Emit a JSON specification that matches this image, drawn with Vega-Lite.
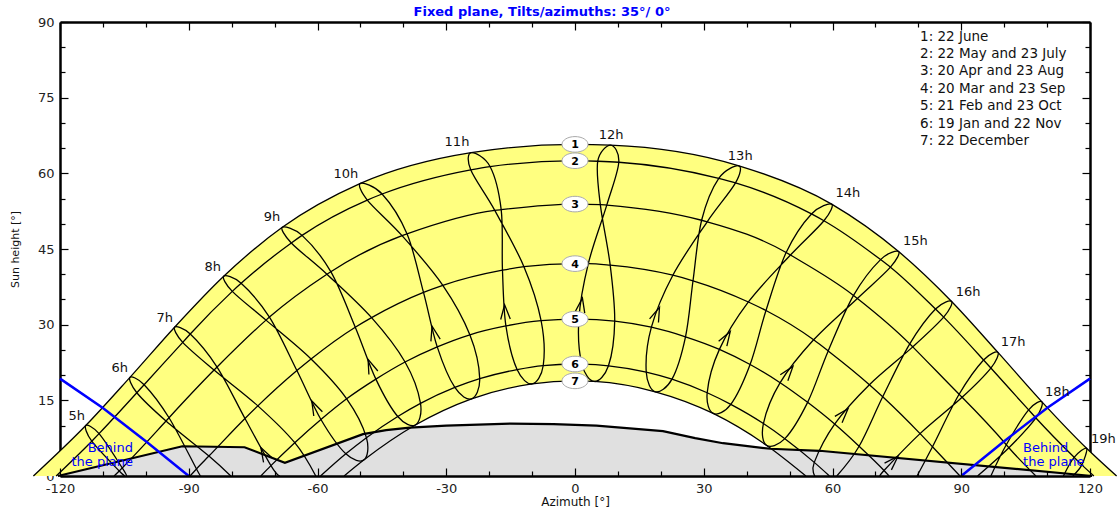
{
"$schema": "https://vega.github.io/schema/vega-lite/v6.json",
"width": 1030, "height": 454,
"autosize": {"type": "none"},
"padding": {"left": 60, "top": 22, "right": 28, "bottom": 39},
"background": "white",
"config": {"font": "DejaVu Sans", "view": {"stroke": null}},
"title": {"text": "Fixed plane, Tilts/azimuths: 35°/ 0°", "color": "#0000ff", "fontSize": 13, "fontWeight": "bold", "anchor": "middle", "dx": -33, "offset": -3},
"datasets": {
"sun": [
{"c":1,"hr":5,"s":6,"az":-114.0,"h":10.0},{"c":1,"hr":6,"s":6,"az":-103.7,"h":19.55},{"c":1,"hr":7,"s":6,"az":-93.3,"h":29.5},{"c":1,"hr":8,"s":6,"az":-81.85,"h":39.6},{"c":1,"hr":9,"s":6,"az":-68.2,"h":49.3},{"c":1,"hr":10,"s":6,"az":-50.0,"h":58.0},{"c":1,"hr":11,"s":6,"az":-24.2,"h":64.1},{"c":1,"hr":12,"s":6,"az":8.3,"h":65.6},{"c":1,"hr":13,"s":6,"az":38.2,"h":61.5},{"c":1,"hr":14,"s":6,"az":59.8,"h":53.9},{"c":1,"hr":15,"s":6,"az":75.4,"h":44.5},{"c":1,"hr":16,"s":6,"az":87.75,"h":34.6},{"c":1,"hr":17,"s":6,"az":98.55,"h":24.5},{"c":1,"hr":18,"s":6,"az":108.8,"h":14.7},{"c":1,"hr":19,"s":6,"az":119.2,"h":5.5},
{"c":2,"hr":5,"s":5,"az":-110.9,"h":8.4},{"c":2,"hr":6,"s":5,"az":-100.4,"h":18.1},{"c":2,"hr":7,"s":5,"az":-89.65,"h":28.15},{"c":2,"hr":8,"s":5,"az":-77.8,"h":38.2},{"c":2,"hr":9,"s":5,"az":-63.6,"h":47.7},{"c":2,"hr":10,"s":5,"az":-44.95,"h":55.9},{"c":2,"hr":11,"s":5,"az":-19.8,"h":61.35},{"c":2,"hr":12,"s":5,"az":10.2,"h":62.2},{"c":2,"hr":13,"s":5,"az":37.4,"h":58.1},{"c":2,"hr":14,"s":5,"az":58.0,"h":50.6},{"c":2,"hr":15,"s":5,"az":73.5,"h":41.4},{"c":2,"hr":16,"s":5,"az":85.9,"h":31.5},{"c":2,"hr":17,"s":5,"az":96.9,"h":21.4},{"c":2,"hr":18,"s":5,"az":107.4,"h":11.5},{"c":2,"hr":19,"s":5,"az":118.1,"h":2.2},
{"c":2,"hr":5,"s":7,"az":-112.6,"h":6.9},{"c":2,"hr":6,"s":7,"az":-102.1,"h":16.5},{"c":2,"hr":7,"s":7,"az":-91.4,"h":26.5},{"c":2,"hr":8,"s":7,"az":-79.85,"h":36.6},{"c":2,"hr":9,"s":7,"az":-66.1,"h":46.2},{"c":2,"hr":10,"s":7,"az":-48.4,"h":54.7},{"c":2,"hr":11,"s":7,"az":-24.3,"h":60.7},{"c":2,"hr":12,"s":7,"az":5.3,"h":62.4},{"c":2,"hr":13,"s":7,"az":33.5,"h":59.0},{"c":2,"hr":14,"s":7,"az":55.1,"h":51.95},{"c":2,"hr":15,"s":7,"az":71.2,"h":42.9},{"c":2,"hr":16,"s":7,"az":84.0,"h":33.1},{"c":2,"hr":17,"s":7,"az":95.2,"h":23.0},{"c":2,"hr":18,"s":7,"az":105.7,"h":13.1},{"c":2,"hr":19,"s":7,"az":116.3,"h":3.7},
{"c":3,"hr":5,"s":4,"az":-105.5,"h":1.6},{"c":3,"hr":6,"s":4,"az":-94.6,"h":11.55},{"c":3,"hr":7,"s":4,"az":-83.4,"h":21.6},{"c":3,"hr":8,"s":4,"az":-71.2,"h":31.5},{"c":3,"hr":9,"s":4,"az":-56.9,"h":40.5},{"c":3,"hr":10,"s":4,"az":-39.15,"h":48.0},{"c":3,"hr":11,"s":4,"az":-17.2,"h":52.8},{"c":3,"hr":12,"s":4,"az":7.4,"h":53.7},{"c":3,"hr":13,"s":4,"az":30.8,"h":50.4},{"c":3,"hr":14,"s":4,"az":50.2,"h":43.8},{"c":3,"hr":15,"s":4,"az":65.8,"h":35.2},{"c":3,"hr":16,"s":4,"az":78.7,"h":25.6},{"c":3,"hr":17,"s":4,"az":90.2,"h":15.6},{"c":3,"hr":18,"s":4,"az":101.1,"h":5.6},
{"c":3,"hr":5,"s":8,"az":-106.2,"h":1.0},{"c":3,"hr":6,"s":8,"az":-95.3,"h":10.9},{"c":3,"hr":7,"s":8,"az":-84.1,"h":21.0},{"c":3,"hr":8,"s":8,"az":-72.0,"h":30.9},{"c":3,"hr":9,"s":8,"az":-57.8,"h":40.0},{"c":3,"hr":10,"s":8,"az":-40.3,"h":47.65},{"c":3,"hr":11,"s":8,"az":-18.7,"h":52.65},{"c":3,"hr":12,"s":8,"az":5.9,"h":53.8},{"c":3,"hr":13,"s":8,"az":29.5,"h":50.7},{"c":3,"hr":14,"s":8,"az":49.2,"h":44.3},{"c":3,"hr":15,"s":8,"az":64.9,"h":35.8},{"c":3,"hr":16,"s":8,"az":78.0,"h":26.2},{"c":3,"hr":17,"s":8,"az":89.5,"h":16.2},{"c":3,"hr":18,"s":8,"az":100.5,"h":6.2},
{"c":4,"hr":6,"s":3,"az":-88.2,"h":1.4},{"c":4,"hr":7,"s":3,"az":-76.9,"h":11.4},{"c":4,"hr":8,"s":3,"az":-64.8,"h":20.9},{"c":4,"hr":9,"s":3,"az":-51.2,"h":29.5},{"c":4,"hr":10,"s":3,"az":-35.3,"h":36.4},{"c":4,"hr":11,"s":3,"az":-16.9,"h":40.8},{"c":4,"hr":12,"s":3,"az":3.1,"h":42.1},{"c":4,"hr":13,"s":3,"az":22.8,"h":39.8},{"c":4,"hr":14,"s":3,"az":40.4,"h":34.5},{"c":4,"hr":15,"s":3,"az":55.6,"h":27.0},{"c":4,"hr":16,"s":3,"az":68.6,"h":18.1},{"c":4,"hr":17,"s":3,"az":80.4,"h":8.4},
{"c":4,"hr":6,"s":9,"az":-85.3,"h":3.95},{"c":4,"hr":7,"s":9,"az":-73.9,"h":13.9},{"c":4,"hr":8,"s":9,"az":-61.5,"h":23.2},{"c":4,"hr":9,"s":9,"az":-47.4,"h":31.4},{"c":4,"hr":10,"s":9,"az":-30.8,"h":37.8},{"c":4,"hr":11,"s":9,"az":-11.9,"h":41.5},{"c":4,"hr":12,"s":9,"az":8.2,"h":41.8},{"c":4,"hr":13,"s":9,"az":27.5,"h":38.7},{"c":4,"hr":14,"s":9,"az":44.5,"h":32.8},{"c":4,"hr":15,"s":9,"az":59.0,"h":24.8},{"c":4,"hr":16,"s":9,"az":71.7,"h":15.7},{"c":4,"hr":17,"s":9,"az":83.3,"h":5.8},
{"c":5,"hr":7,"s":2,"az":-70.85,"h":2.05},{"c":5,"hr":8,"s":2,"az":-59.2,"h":11.2},{"c":5,"hr":9,"s":2,"az":-46.4,"h":19.2},{"c":5,"hr":10,"s":2,"az":-32.1,"h":25.6},{"c":5,"hr":11,"s":2,"az":-16.1,"h":29.75},{"c":5,"hr":12,"s":2,"az":0.9,"h":31.1},{"c":5,"hr":13,"s":2,"az":17.8,"h":29.5},{"c":5,"hr":14,"s":2,"az":33.65,"h":25.1},{"c":5,"hr":15,"s":2,"az":47.8,"h":18.5},{"c":5,"hr":16,"s":2,"az":60.5,"h":10.3},{"c":5,"hr":17,"s":2,"az":72.0,"h":1.1},
{"c":5,"hr":7,"s":10,"az":-65.3,"h":6.6},{"c":5,"hr":8,"s":10,"az":-53.2,"h":15.3},{"c":5,"hr":9,"s":10,"az":-39.6,"h":22.6},{"c":5,"hr":10,"s":10,"az":-24.5,"h":28.0},{"c":5,"hr":11,"s":10,"az":-7.9,"h":30.8},{"c":5,"hr":12,"s":10,"az":9.25,"h":30.7},{"c":5,"hr":13,"s":10,"az":25.75,"h":27.6},{"c":5,"hr":14,"s":10,"az":40.8,"h":22.1},{"c":5,"hr":15,"s":10,"az":54.2,"h":14.6},{"c":5,"hr":16,"s":10,"az":66.2,"h":5.9},
{"c":6,"hr":8,"s":1,"az":-53.4,"h":4.4},{"c":6,"hr":9,"s":1,"az":-41.3,"h":11.8},{"c":6,"hr":10,"s":1,"az":-28.0,"h":17.55},{"c":6,"hr":11,"s":1,"az":-13.5,"h":21.1},{"c":6,"hr":12,"s":1,"az":1.6,"h":22.18},{"c":6,"hr":13,"s":1,"az":16.6,"h":20.6},{"c":6,"hr":14,"s":1,"az":30.8,"h":16.5},{"c":6,"hr":15,"s":1,"az":43.9,"h":10.4},{"c":6,"hr":16,"s":1,"az":55.75,"h":2.7},
{"c":6,"hr":8,"s":11,"az":-48.6,"h":7.6},{"c":6,"hr":9,"s":11,"az":-36.0,"h":14.4},{"c":6,"hr":10,"s":11,"az":-22.2,"h":19.3},{"c":6,"hr":11,"s":11,"az":-7.4,"h":21.9},{"c":6,"hr":12,"s":11,"az":7.8,"h":21.85},{"c":6,"hr":13,"s":11,"az":22.6,"h":19.2},{"c":6,"hr":14,"s":11,"az":36.3,"h":14.2},{"c":6,"hr":15,"s":11,"az":48.9,"h":7.4},
{"c":7,"hr":8,"s":0,"az":-49.15,"h":3.2},{"c":7,"hr":9,"s":0,"az":-37.2,"h":10.1},{"c":7,"hr":10,"s":0,"az":-24.1,"h":15.3},{"c":7,"hr":11,"s":0,"az":-10.0,"h":18.25},{"c":7,"hr":12,"s":0,"az":4.5,"h":18.74},{"c":7,"hr":13,"s":0,"az":18.7,"h":16.7},{"c":7,"hr":14,"s":0,"az":32.2,"h":12.4},{"c":7,"hr":15,"s":0,"az":44.6,"h":6.1},
{"c":1,"az":-126.2,"h":0},{"c":1,"az":0,"h":65.74},{"c":1,"az":126.2,"h":0},
{"c":2,"az":-120.9,"h":0},{"c":2,"az":0,"h":62.5},{"c":2,"az":120.9,"h":0},
{"c":3,"az":-107.4,"h":0},{"c":3,"az":0,"h":53.9},{"c":3,"az":107.4,"h":0},
{"c":4,"az":-89.7,"h":0},{"c":4,"az":0,"h":42.1},{"c":4,"az":89.7,"h":0},
{"c":5,"az":-73.2,"h":0},{"c":5,"az":0,"h":31.1},{"c":5,"az":73.2,"h":0},
{"c":6,"az":-59.3,"h":0},{"c":6,"az":0,"h":22.2},{"c":6,"az":59.3,"h":0},
{"c":7,"az":-53.8,"h":0},{"c":7,"az":0,"h":18.86},{"c":7,"az":53.8,"h":0},
{"hr":5,"s":3.5,"az":-104.5,"h":0},{"hr":5,"s":8.5,"az":-104.8,"h":0},
{"hr":6,"s":2.5,"az":-87.2,"h":0},{"hr":6,"s":9.5,"az":-80.2,"h":0},
{"hr":7,"s":1.5,"az":-68.8,"h":0},{"hr":7,"s":10.5,"az":-60.4,"h":0},
{"hr":16,"s":0.5,"az":55.9,"h":0},{"hr":16,"s":10.5,"az":61.0,"h":0},
{"hr":17,"s":1.5,"az":71.2,"h":0},{"hr":17,"s":9.5,"az":79.7,"h":0},
{"hr":18,"s":3.5,"az":93.8,"h":0},{"hr":18,"s":8.5,"az":96.9,"h":0},
{"hr":19,"s":4.5,"az":116.0,"h":0},{"hr":19,"s":7.5,"az":113.8,"h":0}
],
"horizon": [
{"az":-120.5,"h":0},{"az":-91.5,"h":5.9},{"az":-77,"h":5.7},{"az":-67.6,"h":2.6},{"az":-49.4,"h":8.3},{"az":-44,"h":9.1},{"az":-38.5,"h":9.6},{"az":-30,"h":10.0},{"az":-15,"h":10.4},{"az":-5,"h":10.3},{"az":5,"h":10.0},{"az":20.5,"h":8.9},{"az":28,"h":7.5},{"az":34.5,"h":6.5},{"az":45.5,"h":5.4},{"az":57,"h":5.0},{"az":120.5,"h":0}
],
"blue": [
{"side":"L","az":-120,"h":19.3},{"side":"L","az":-110,"h":13.5},{"side":"L","az":-100,"h":6.9},{"side":"L","az":-90,"h":0},
{"side":"R","az":90,"h":0},{"side":"R","az":100,"h":6.9},{"side":"R","az":110,"h":13.5},{"side":"R","az":120,"h":19.3}
],
"arrows": [
{"az":-72.4,"h":4.4,"ang":-28.8},{"az":-60.6,"h":13.6,"ang":-26.1},{"az":-47.6,"h":21.8,"ang":-21.6},{"az":-32.9,"h":28.3,"ang":-14.1},{"az":-16.3,"h":32.5,"ang":-3.5},{"az":1.45,"h":33.85,"ang":9.6},{"az":19.05,"h":32.1,"ang":22.4},{"az":35.3,"h":27.45,"ang":31.4},{"az":49.75,"h":20.6,"ang":38.0},{"az":62.5,"h":12.25,"ang":41.4},{"az":74.1,"h":2.9,"ang":44.4}
],
"dlabels": [
{"t":"1","az":0,"h":65.74},{"t":"2","az":0,"h":62.5},{"t":"3","az":0,"h":53.9},{"t":"4","az":0,"h":42.1},{"t":"5","az":0,"h":31.1},{"t":"6","az":0,"h":22.2},{"t":"7","az":0,"h":18.86}
],
"hlabels": [
{"t":"5h","az":-116.1,"h":11.9},{"t":"6h","az":-106.1,"h":21.4},{"t":"7h","az":-95.6,"h":31.3},{"t":"8h","az":-84.4,"h":41.4},{"t":"9h","az":-70.6,"h":51.3},{"t":"10h","az":-53.4,"h":59.9},{"t":"11h","az":-27.5,"h":66.2},{"t":"12h","az":8.4,"h":67.6},{"t":"13h","az":38.5,"h":63.4},{"t":"14h","az":63.6,"h":56.1},{"t":"15h","az":79.3,"h":46.6},{"t":"16h","az":91.6,"h":36.5},{"t":"17h","az":102.1,"h":26.6},{"t":"18h","az":112.4,"h":16.7},{"t":"19h","az":123.1,"h":7.3}
],
"legend": [
{"t":"1: 22 June","az":80.4,"h":87.1},{"t":"2: 22 May and 23 July","az":80.4,"h":83.6},{"t":"3: 20 Apr and 23 Aug","az":80.4,"h":80.2},{"t":"4: 20 Mar and 23 Sep","az":80.4,"h":76.7},{"t":"5: 21 Feb and 23 Oct","az":80.4,"h":73.3},{"t":"6: 19 Jan and 22 Nov","az":80.4,"h":69.8},{"t":"7: 22 December","az":80.4,"h":66.4}
],
"behindL": [{"t":"Behind\nthe plane","az":-103.0,"h":5.6}],
"behindR": [{"t":"Behind\nthe plane","az":104.4,"h":5.6}]
},
"encoding": {
"x": {"field":"az","type":"quantitative","scale":{"domain":[-120,120],"nice":false,"zero":false},"axis":null},
"y": {"field":"h","type":"quantitative","scale":{"domain":[0,90],"nice":false,"zero":false},"axis":null}
},
"resolve": {"axis": {"x":"independent","y":"independent"}},
"layer": [
{"data":{"name":"sun"},"transform":[{"filter":"datum.c === 1"}],
 "mark":{"type":"area","interpolate":"monotone","color":"#ffff80"},
 "encoding":{
  "x":{"field":"az","type":"quantitative","scale":{"domain":[-120,120],"nice":false,"zero":false},
   "axis":{"orient":"bottom","zindex":1,"values":[-120,-110,-100,-90,-80,-70,-60,-50,-40,-30,-20,-10,0,10,20,30,40,50,60,70,80,90,100,110,120],
    "labelExpr":"datum.value % 30 === 0 ? toString(datum.value) : ''",
    "tickSize":{"condition":{"test":"datum.value % 30 === 0","value":-8},"value":-5},
    "tickColor":"black","tickWidth":1.2,"domainColor":"black","domainWidth":2.5,"grid":false,
    "labelFontSize":13,"labelColor":"#222","labelPadding":14,"labelFlush":false,"labelOverlap":false,
    "title":"Azimuth [°]","titleFontSize":12,"titleFontWeight":"normal","titleColor":"#111","titlePadding":-2}},
  "y":{"field":"h","type":"quantitative","scale":{"domain":[0,90],"nice":false,"zero":false},
   "axis":{"orient":"left","values":[0,5,10,15,20,25,30,35,40,45,50,55,60,65,70,75,80,85,90],
    "labelExpr":"datum.value % 15 === 0 ? toString(datum.value) : ''",
    "tickSize":{"condition":{"test":"datum.value % 15 === 0","value":-8},"value":-5},
    "tickColor":"black","tickWidth":1.2,"domainColor":"black","domainWidth":2.5,"grid":false,
    "labelFontSize":13,"labelColor":"#222","labelPadding":14,"labelFlush":false,"labelOverlap":false,
    "title":"Sun height [°]","titleFontSize":11,"titleFontWeight":"normal","titleColor":"#111","titlePadding":17}}
 }},
{"data":{"name":"sun"},"transform":[{"filter":"datum.c === 7"}],
 "mark":{"type":"area","interpolate":"monotone","color":"white"},
 "encoding":{
  "x":{"field":"az","type":"quantitative","scale":{"domain":[-120,120],"nice":false,"zero":false},
   "axis":{"orient":"top","values":[-120,-110,-100,-90,-80,-70,-60,-50,-40,-30,-20,-10,0,10,20,30,40,50,60,70,80,90,100,110,120],
    "labels":false,"title":null,"grid":false,
    "tickSize":{"condition":{"test":"datum.value % 30 === 0","value":-8},"value":-5},
    "tickColor":"black","tickWidth":1.2,"domainColor":"black","domainWidth":2.5}},
  "y":{"field":"h","type":"quantitative","scale":{"domain":[0,90],"nice":false,"zero":false},
   "axis":{"orient":"right","values":[0,5,10,15,20,25,30,35,40,45,50,55,60,65,70,75,80,85,90],
    "labels":false,"title":null,"grid":false,
    "tickSize":{"condition":{"test":"datum.value % 15 === 0","value":-8},"value":-5},
    "tickColor":"black","tickWidth":1.2,"domainColor":"black","domainWidth":2.5}}
 }},
{"data":{"name":"horizon"},"mark":{"type":"area","color":"#e0e0e0"}},
{"data":{"name":"horizon"},"mark":{"type":"line","color":"black","strokeWidth":2.2}},
{"data":{"name":"sun"},"transform":[{"filter":"isValid(datum.c)"}],
 "mark":{"type":"line","interpolate":"monotone","color":"black","strokeWidth":1.3},
 "encoding":{"detail":{"field":"c"}}},
{"data":{"name":"sun"},"transform":[{"filter":"isValid(datum.hr) && datum.hr >= 8 && datum.hr <= 15"}],
 "mark":{"type":"line","interpolate":"cardinal-closed","color":"black","strokeWidth":1.3},
 "encoding":{"detail":{"field":"hr"},"order":{"field":"s","type":"quantitative"}}},
{"data":{"name":"sun"},"transform":[{"filter":"isValid(datum.hr) && (datum.hr < 8 || datum.hr > 15)"}],
 "mark":{"type":"line","interpolate":"cardinal","color":"black","strokeWidth":1.3},
 "encoding":{"detail":{"field":"hr"},"order":{"field":"s","type":"quantitative"}}},
{"data":{"name":"blue"},"mark":{"type":"line","color":"#0000ff","strokeWidth":2.5},
 "encoding":{"detail":{"field":"side"}}},
{"data":{"name":"arrows"},
 "mark":{"type":"point","shape":"M-0.6,0.9L0,-0.9L0.6,0.9","filled":false,"stroke":"black","strokeWidth":1.3,"size":256,"opacity":1},
 "encoding":{"angle":{"field":"ang","type":"quantitative","scale":null}}},
{"data":{"name":"dlabels"},
 "mark":{"type":"point","shape":"M-1,0A1,0.6,0,1,1,1,0A1,0.6,0,1,1,-1,0Z","filled":true,"fill":"white","stroke":"#aaaaaa","strokeWidth":1,"size":676,"opacity":1}},
{"data":{"name":"dlabels"},
 "mark":{"type":"text","fontSize":11,"fontWeight":"bold","color":"black","align":"center","baseline":"middle","dy":1},
 "encoding":{"text":{"field":"t"}}},
{"data":{"name":"hlabels"},
 "mark":{"type":"text","fontSize":13,"color":"#111","align":"center","baseline":"middle"},
 "encoding":{"text":{"field":"t"}}},
{"data":{"name":"legend"},
 "mark":{"type":"text","fontSize":13.5,"color":"#111","align":"left","baseline":"middle"},
 "encoding":{"text":{"field":"t"}}},
{"data":{"name":"behindL"},
 "mark":{"type":"text","fontSize":13,"color":"#0000ff","align":"right","baseline":"middle","lineBreak":"\n","lineHeight":14},
 "encoding":{"text":{"field":"t"}}},
{"data":{"name":"behindR"},
 "mark":{"type":"text","fontSize":13,"color":"#0000ff","align":"left","baseline":"middle","lineBreak":"\n","lineHeight":14},
 "encoding":{"text":{"field":"t"}}}
]
}
